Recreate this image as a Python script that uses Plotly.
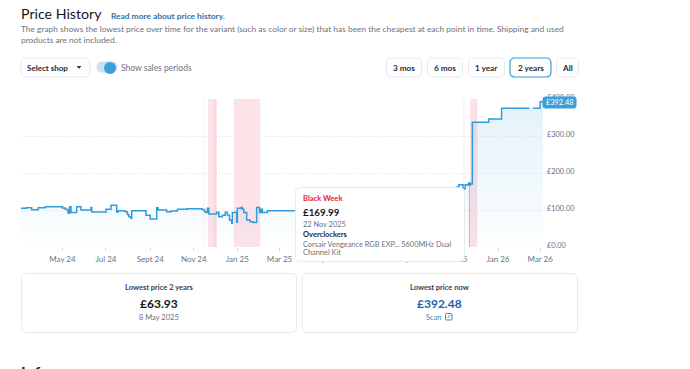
import plotly.graph_objects as go

W, H = 690, 369
FONT = "Lato"

step_dates = ["2024-03-03","2024-03-11","2024-03-19","2024-03-28","2024-04-07","2024-05-01","2024-05-05","2024-05-08","2024-05-09","2024-05-11","2024-05-13","2024-05-21","2024-05-27","2024-06-10","2024-06-11","2024-07-01","2024-07-08","2024-07-16","2024-07-18","2024-07-28","2024-07-31","2024-08-02","2024-08-05","2024-08-06","2024-08-26","2024-09-01","2024-09-10","2024-09-12","2024-09-24","2024-09-30","2024-10-09","2024-10-22","2024-11-13","2024-11-16","2024-11-18","2024-11-20","2024-11-22","2024-12-03","2024-12-06","2024-12-11","2024-12-15","2024-12-18","2024-12-21","2024-12-24","2024-12-25","2024-12-31","2025-01-01","2025-01-06","2025-01-08","2025-01-10","2025-01-14","2025-01-19","2025-01-23","2025-01-28","2025-02-01","2025-02-03","2025-02-05","2025-02-12","2025-05-08","2025-05-12","2025-08-10","2025-11-05","2025-11-07","2025-11-13","2025-11-16","2025-11-22","2025-11-26","2025-12-19","2026-01-06","2026-02-14","2026-02-15","2026-02-19","2026-03-01","2026-03-05"]
step_prices = [104.5,106,101,106,109,105.4,102,99,91,109,93,109,100,107,94.6,102,112.6,94.6,98,95.5,88,82,77.5,98,85.6,75.7,106,100,95.5,97,102,103.6,101,95.5,93,105,89,93.7,82,85.6,93.7,86.5,73,64,93,66.7,104.5,107,102,93,73,68.5,66,107,93,102,93,98,63.93,98,100,163,168.4,157,168.4,169.99,337,346,375,375,None,375,392.48,392.48]

band_starts = ["2024-11-14","2024-11-21","2024-11-29","2024-12-27","2025-11-13","2025-11-23"]
band_ends = ["2024-11-16","2024-12-03","2024-12-03","2025-02-02","2025-11-16","2025-12-03"]
band_alphas = [0.06,0.14,0.08,0.14,0.06,0.16]

x_tick_dates = ["2024-05-01","2024-07-01","2024-09-01","2024-11-01","2025-01-01","2025-03-01","2025-05-01","2025-07-01","2025-09-01","2025-11-01","2026-01-01","2026-03-01"]
x_tick_labels = ["May 24","Jul 24","Sept 24","Nov 24","Jan 25","Mar 25","May 25","Jul 25","Sept 25","Nov 25","Jan 26","Mar 26"]
y_tick_values = [0,100,200,300,400]
y_tick_labels = ["£0.00","£100.00","£200.00","£300.00","£400.00"]
hover_date = "2025-11-22"
hover_price = 169.99
current_price_label = "£392.48"

def px(x): return x / W
def py(y): return 1 - y / H

def rrect(x0, y0, x1, y1, r, fill="white", line="#e8eaed", lw=1):
    X0, X1, Y0, Y1 = px(x0), px(x1), py(y0), py(y1)
    rx, ry = r / W, r / H
    path = (f"M{X0+rx},{Y0} L{X1-rx},{Y0} Q{X1},{Y0} {X1},{Y0-ry} L{X1},{Y1+ry} Q{X1},{Y1} {X1-rx},{Y1} "
            f"L{X0+rx},{Y1} Q{X0},{Y1} {X0},{Y1+ry} L{X0},{Y0-ry} Q{X0},{Y0} {X0+rx},{Y0} Z")
    return dict(type="path", path=path, xref="paper", yref="paper", fillcolor=fill,
                line=dict(color=line, width=lw), layer="above")

def label(text, x, y, size=9, color="#6b7280", bold=False, anchor="left", family=FONT):
    t = f"<b>{text}</b>" if bold else text
    return dict(text=t, x=px(x), y=py(y), xref="paper", yref="paper", xanchor=anchor, yanchor="middle",
                showarrow=False, align=anchor, font=dict(size=size, color=color, family=family),
                borderpad=0, borderwidth=0)

fig = go.Figure()
fig.add_trace(go.Scatter(x=step_dates, y=step_prices, mode="lines", line=dict(color="#339bd9", width=1.5, shape="hv"),
                         fill="tozeroy", fillgradient=dict(type="vertical", colorscale=[[0,"rgba(52,155,217,0.0)"],[0.27,"rgba(52,155,217,0.05)"],[1,"rgba(52,155,217,0.13)"]]),
                         hoverinfo="skip", showlegend=False))
fig.add_trace(go.Scatter(x=[hover_date, hover_date], y=[hover_price, 0], mode="lines", line=dict(color="#b4b8bd", width=1),
                         hoverinfo="skip", showlegend=False))
fig.add_trace(go.Scatter(x=[hover_date], y=[hover_price], mode="markers", marker=dict(color="#339bd9", size=4),
                         hoverinfo="skip", showlegend=False))

shapes = []
for s, e, a in zip(band_starts, band_ends, band_alphas):
    shapes.append(dict(type="rect", xref="x", yref="y domain", x0=s, x1=e, y0=0, y1=1, layer="below",
                       fillcolor=f"rgba(232,60,90,{a})", line=dict(width=0)))

shapes.append(rrect(295.5, 187.5, 464.5, 261.5, 5))
for box in [(386.5,58,421.5,77),(427.5,58,462.5,77),(468.5,58,504.5,77),(556.5,58,578.5,77),(21,58,90,77),(21.5,273.5,296.5,332.5),(302,273.5,577.5,332.5)]:
    shapes.append(rrect(*box, 5))
shapes.append(rrect(510, 58, 551, 77, 5, line="#3a9bd9", lw=1.2))
shapes.append(rrect(97, 62, 117, 72, 5, fill="#c6e1f3", line="#c6e1f3"))
shapes.append(dict(type="circle", xref="paper", yref="paper", x0=px(104), x1=px(116), y0=py(74), y1=py(62),
                   fillcolor="#3a9fdc", line=dict(width=0), layer="above"))
shapes.append(rrect(543, 97, 576, 108, 2, fill="#3a9fdc", line="#3a9fdc"))
shapes.append(rrect(445.5, 313.5, 452, 320, 1, fill="white", line="#3f86c6", lw=1))
shapes.append(dict(type="path", path=f"M{px(447.5)},{py(318)} L{px(450.5)},{py(315)}", xref="paper", yref="paper",
                   line=dict(color="#3f86c6", width=1), layer="above"))
shapes.append(dict(type="path", path=f"M{px(76.5)},{py(66)} L{px(81.5)},{py(66)} L{px(79)},{py(69)} Z", xref="paper", yref="paper",
                   fillcolor="#374151", line=dict(width=0), layer="above"))

ann = [
    label("Price History", 21, 14, 14.2, "#111827", False),
    label("Read more about price history.", 111, 16, 8.4, "#2a6fb3", True),
    label("The graph shows the lowest price over time for the variant (such as color or size) that has been the cheapest at each point in time. Shipping and used", 21, 28.5, 8.4),
    label("products are not included.", 21, 40, 8.4),
    label("Select shop", 27, 68, 8, "#1f2937", True),
    label("Show sales periods", 121, 68, 8.5, "#6b7280"),
    label("3 mos", 404, 68, 8.2, "#1f2937", True, "center"),
    label("6 mos", 445, 68, 8.2, "#1f2937", True, "center"),
    label("1 year", 486.5, 68, 8.2, "#1f2937", True, "center"),
    label("2 years", 530.5, 68, 8.2, "#1f2937", True, "center"),
    label("All", 567.5, 68, 8.2, "#1f2937", True, "center"),
    label(current_price_label, 559.5, 102.5, 7.4, "white", False, "center"),
    label("Black Week", 303, 198.5, 7.5, "#e11d48", True),
    label("£169.99", 303, 212, 9.8, "#111827", True),
    label("22 Nov 2025", 303, 224, 7.4, "#6b7280"),
    label("Overclockers", 303, 234, 7.5, "#1f2937", True),
    label("Corsair Vengeance RGB EXP... 5600MHz Dual", 303, 244, 7.4, "#6b7280"),
    label("Channel Kit", 303, 253, 7.4, "#6b7280"),
    label("Lowest price 2 years", 159, 287, 7.5, "#374151", True, "center"),
    label("£63.93", 159, 303, 12, "#111827", True, "center"),
    label("8 May 2025", 159, 317.5, 7.5, "#6b7280", False, "center"),
    label("Lowest price now", 440, 287, 7.5, "#374151", True, "center"),
    label("£392.48", 440, 303, 12, "#1f5fa8", True, "center"),
    label("Scan", 434, 317.5, 7.5, "#3f86c6", False, "center"),
    label("Info", 21, 371.5, 16, "#111827", True),
]

fig.update_layout(
    width=W, height=H, autosize=False, margin=dict(l=0, r=0, t=0, b=0),
    paper_bgcolor="white", plot_bgcolor="rgba(0,0,0,0)", showlegend=False,
    font=dict(family=FONT),
    shapes=shapes, annotations=ann,
    xaxis=dict(domain=[px(21), px(543)], range=["2024-03-04","2026-03-05"], type="date", automargin=False,
               tickmode="array", tickvals=x_tick_dates, ticktext=x_tick_labels,
               ticks="outside", ticklen=3, tickcolor="#d5d8dc", tickfont=dict(size=8, color="#6b7280"),
               showgrid=False, zeroline=False, showline=False, ticklabelstandoff=1),
    yaxis=dict(domain=[py(247), py(99)], range=[0,400], side="right", automargin=False,
               tickmode="array", tickvals=y_tick_values, ticktext=y_tick_labels,
               tickfont=dict(size=7.4, color="#6b7280"), ticks="", ticklabelstandoff=3, ticklabelshift=-2,
               showgrid=True, gridcolor="#e0e3e6", griddash="1px,2px", gridwidth=1, zeroline=False, showline=False),
)
fig.write_html("out.html", config={"displayModeBar": False},
               post_script="document.body.style.margin='0';document.body.style.overflow='hidden';")
